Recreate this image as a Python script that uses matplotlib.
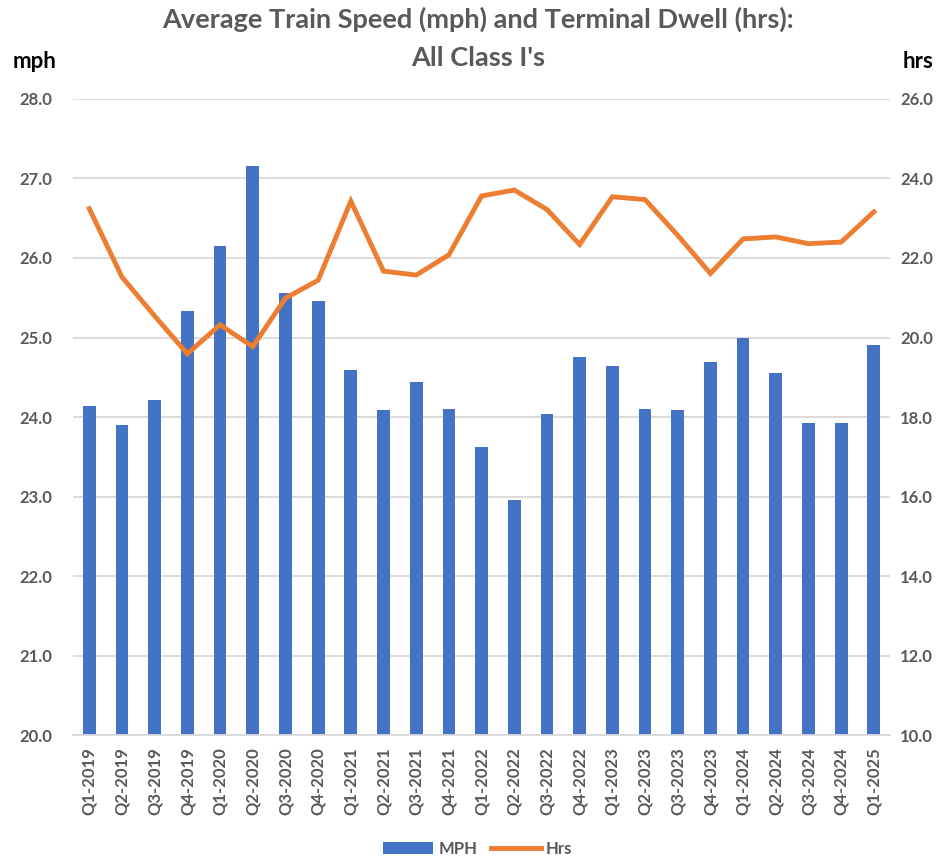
import matplotlib.pyplot as plt
import numpy as np
from matplotlib.lines import Line2D
from matplotlib.patches import Patch

quarters = ["Q1-2019", "Q2-2019", "Q3-2019", "Q4-2019",
            "Q1-2020", "Q2-2020", "Q3-2020", "Q4-2020",
            "Q1-2021", "Q2-2021", "Q3-2021", "Q4-2021",
            "Q1-2022", "Q2-2022", "Q3-2022", "Q4-2022",
            "Q1-2023", "Q2-2023", "Q3-2023", "Q4-2023",
            "Q1-2024", "Q2-2024", "Q3-2024", "Q4-2024",
            "Q1-2025"]
mph = [24.14, 23.90, 24.22, 25.33,
       26.15, 27.16, 25.56, 25.46,
       24.59, 24.09, 24.44, 24.10,
       23.62, 22.95, 24.04, 24.76,
       24.64, 24.10, 24.09, 24.69,
       25.00, 24.55, 23.92, 23.93,
       24.90]
hrs = [23.24, 21.52, 20.54, 19.59,
       20.32, 19.77, 20.99, 21.44,
       23.43, 21.67, 21.57, 22.08,
       23.56, 23.71, 23.22, 22.34,
       23.54, 23.47, 22.57, 21.61,
       22.48, 22.53, 22.36, 22.40,
       23.16]

blue = "#4472C4"
orange = "#ED7D31"
gray = "#595959"
plt.rcParams['font.family'] = ['Lato', 'DejaVu Sans']

fig = plt.figure(figsize=(9.44, 8.6), dpi=100)
ax = fig.add_axes([0.0773, 0.1453, 0.8657, 0.7396])
ax2 = ax.twinx()

x = np.arange(len(quarters))
ax.bar(x, mph, width=0.39, color=blue, zorder=2)
ax.set_ylim(20, 28)
ax.set_xlim(-0.5, len(quarters) - 0.5)
ax.set_yticks(np.arange(20, 28.1, 1))
ax.set_yticklabels([f"{v:.1f}" for v in np.arange(20, 28.1, 1)])
ax.grid(axis='y', color='#D9D9D9', linewidth=1.3, zorder=0)
ax.set_axisbelow(True)

ax2.plot(x, hrs, color=orange, linewidth=3.5, solid_joinstyle='miter')
ax2.set_ylim(10, 26)
ax2.set_yticks(np.arange(10, 26.1, 2))
ax2.set_yticklabels([f"{v:.1f}" for v in np.arange(10, 26.1, 2)])

ax.set_xticks(x)
ax.set_xticklabels(quarters, rotation=90)

for a in (ax, ax2):
    for s in a.spines.values():
        s.set_visible(False)
    a.tick_params(length=0, labelsize=12, labelcolor=gray)
    for lbl in a.get_xticklabels() + a.get_yticklabels():
        lbl.set_fontweight('bold')
ax.spines['bottom'].set_visible(True)
ax.spines['bottom'].set_color('#D9D9D9')
ax.spines['bottom'].set_linewidth(1.3)
ax.tick_params(axis='y', pad=15)
ax2.tick_params(axis='y', pad=7)
ax.tick_params(axis='x', pad=9)

fig.text(0.506, 0.978, "Average Train Speed (mph) and Terminal Dwell (hrs):",
         ha='center', va='center', fontsize=19.5, fontweight='bold', color=gray)
fig.text(0.506, 0.933, "All Class I's", ha='center', va='center',
         fontsize=19.5, fontweight='bold', color=gray)
fig.text(0.037, 0.928, "mph", ha='center', va='center', fontsize=16,
         fontweight='bold', color='black')
fig.text(0.973, 0.928, "hrs", ha='center', va='center', fontsize=16,
         fontweight='bold', color='black')

handles = [Patch(facecolor=blue, label="MPH"),
           Line2D([0], [0], color=orange, linewidth=3.5, label="Hrs")]
leg = fig.legend(handles=handles, loc='center', bbox_to_anchor=(0.506, 0.013),
                 ncol=2, frameon=False, fontsize=12, labelcolor=gray,
                 handlelength=3.0, columnspacing=0.8, handletextpad=0.3)
for t in leg.get_texts():
    t.set_fontweight('bold')

fig.savefig("out.png", dpi=100)
